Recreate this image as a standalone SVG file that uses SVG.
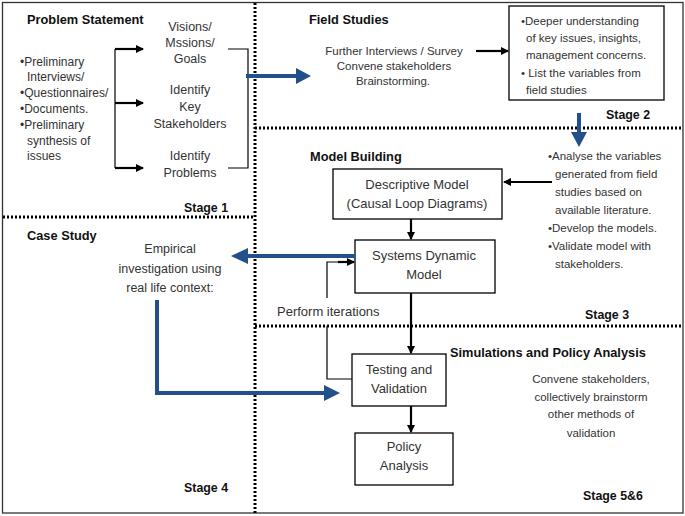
<svg xmlns="http://www.w3.org/2000/svg" width="685" height="516" viewBox="0 0 685 516">
<style>
.t{font-family:"Liberation Sans",Arial,sans-serif;font-size:11.5px;fill:#333}
.t12{font-size:12px}
.t125{font-size:12.5px}
.t13{font-size:13px}
.b{font-family:"Liberation Sans",Arial,sans-serif;font-size:12.8px;font-weight:bold;fill:#111}
.s{font-size:12.4px}
.m{text-anchor:middle}
.dot{stroke:#000;stroke-width:3;stroke-dasharray:2 2;fill:none}
.box{fill:#fff;stroke:#000;stroke-width:1.3}
.ln{stroke:#000;stroke-width:1.2;fill:none}
.ar{stroke:#000;stroke-width:2.2;fill:none}
.bl{stroke:#22508a;stroke-width:4;fill:none}
</style>
<defs>
<marker id="ah" markerWidth="8" markerHeight="8" refX="7" refY="4" orient="auto" markerUnits="userSpaceOnUse">
<path d="M0,0 L8,4 L0,8 Z" fill="#000"/>
</marker>
</defs>
<rect x="2.5" y="2.5" width="680.5" height="510.5" fill="#fff" stroke="#333" stroke-width="1.3"/>
<g id="dividers">
<line class="dot" x1="255" y1="3" x2="255" y2="513"/>
<line class="dot" x1="3" y1="217" x2="255" y2="217"/>
<line class="dot" x1="255" y1="128" x2="682" y2="128"/>
<line class="dot" x1="255" y1="326" x2="682" y2="326"/>
</g>
<g id="stage1">
<text class="b" x="27" y="24">Problem Statement</text>
<text class="t t12" x="20" y="66">•Preliminary</text>
<text class="t t12" x="27" y="81">Interviews/</text>
<text class="t t12" x="20" y="97">•Questionnaires/</text>
<text class="t t12" x="20" y="113">•Documents.</text>
<text class="t t12" x="20" y="129">•Preliminary</text>
<text class="t t12" x="27" y="145">synthesis of</text>
<text class="t t12" x="27" y="160">issues</text>
<text class="b s" x="184" y="212">Stage 1</text>
</g>
<g id="goals"><text class="t t125 m" x="190" y="31">Visions/</text><text class="t t125 m" x="190" y="47">Mssions/</text><text class="t t125 m" x="190" y="63">Goals</text></g>
<g id="stakeholders"><text class="t t125 m" x="190" y="94">Identify</text><text class="t t125 m" x="190" y="111">Key</text><text class="t t125 m" x="190" y="128">Stakeholders</text></g>
<g id="problems"><text class="t t125 m" x="190" y="160">Identify</text><text class="t t125 m" x="190" y="177">Problems</text></g>
<g id="stage2">
<text class="b" x="309" y="24">Field Studies</text>
<text class="t m" x="394" y="55">Further Interviews / Survey</text>
<text class="t m" x="394" y="70">Convene stakeholders</text>
<text class="t m" x="393" y="85">Brainstorming.</text>
<text class="b s" x="606" y="119">Stage 2</text>
</g>
<g id="understanding">
<rect class="box" x="509" y="6" width="155" height="94"/>
<text class="t" x="521" y="25">•Deeper understanding</text>
<text class="t" x="526" y="42">of key issues, insights,</text>
<text class="t" x="526" y="59">management concerns.</text>
<text class="t" x="521" y="77">• List the variables from</text>
<text class="t" x="526" y="94">field studies</text>
</g>
<g id="stage3">
<text class="b" x="310" y="161">Model Building</text>
<text class="t" x="548" y="160">•Analyse the variables</text>
<text class="t" x="555" y="178">generated from field</text>
<text class="t" x="555" y="196">studies based on</text>
<text class="t" x="555" y="214">available literature.</text>
<text class="t" x="548" y="232">•Develop the models.</text>
<text class="t" x="548" y="250">•Validate model with</text>
<text class="t" x="555" y="268">stakeholders.</text>
<text class="t t13" x="277" y="316">Perform iterations</text>
<text class="b s" x="585" y="319">Stage 3</text>
</g>
<g id="descriptive"><rect class="box" x="333" y="169" width="169" height="50"/><text class="t t13" x="417" y="189" text-anchor="middle">Descriptive Model</text><text class="t t13" x="417" y="208" text-anchor="middle">(Causal Loop Diagrams)</text></g>
<g id="sd"><rect class="box" x="355" y="240" width="140" height="53"/><text class="t t13" x="424" y="260" text-anchor="middle">Systems Dynamic</text><text class="t t13" x="424" y="279" text-anchor="middle">Model</text></g>
<g id="stage56">
<text class="b" x="450" y="357">Simulations and Policy Analysis</text>
<text class="t m" x="591" y="383">Convene stakeholders,</text>
<text class="t m" x="591" y="401">collectively brainstorm</text>
<text class="t m" x="591" y="418">other methods of</text>
<text class="t m" x="591" y="437">validation</text>
<text class="b s" x="583" y="500">Stage 5&amp;6</text>
</g>
<g id="testing"><rect class="box" x="352" y="354" width="94" height="52"/><text class="t t13" x="399" y="374" text-anchor="middle">Testing and</text><text class="t t13" x="399" y="393" text-anchor="middle">Validation</text></g>
<g id="policy"><rect class="box" x="355" y="433" width="98" height="52"/><text class="t t13" x="404" y="451" text-anchor="middle">Policy</text><text class="t t13" x="404" y="470" text-anchor="middle">Analysis</text></g>
<g id="stage4">
<text class="b" x="27" y="240">Case Study</text>
<text class="t t125 m" x="170" y="253">Empirical</text>
<text class="t t125 m" x="170" y="273">investigation using</text>
<text class="t t125 m" x="170" y="292">real life context:</text>
<text class="b s" x="184" y="492">Stage 4</text>
</g>
<g id="connectors">
<polyline class="ln" points="228,49 248,49 248,168 228,168"/>
<line class="ln" x1="115" y1="49" x2="115" y2="168"/>
<line class="ar" x1="115" y1="49" x2="143" y2="49" marker-end="url(#ah)"/>
<line class="ar" x1="115" y1="103" x2="143" y2="103" marker-end="url(#ah)"/>
<line class="ar" x1="115" y1="168" x2="143" y2="168" marker-end="url(#ah)"/>
<line class="ar" x1="476" y1="51" x2="508" y2="51" marker-end="url(#ah)"/>
<line class="ar" x1="552" y1="182" x2="504" y2="182" marker-end="url(#ah)"/>
<line class="ar" x1="411" y1="219" x2="411" y2="239" marker-end="url(#ah)"/>
<line class="ar" x1="411" y1="293" x2="411" y2="353" marker-end="url(#ah)"/>
<line class="ar" x1="411" y1="406" x2="411" y2="432" marker-end="url(#ah)"/>
<polyline class="ln" points="327,298 327,262 340,262"/>
<line class="ar" x1="338" y1="262" x2="354" y2="262" marker-end="url(#ah)"/>
<polyline class="ln" points="327,326 327,379 352,379"/>
<line class="bl" x1="246" y1="76" x2="298" y2="76"/>
<path d="M296,68 L311,76 L296,84 Z" fill="#22508a"/>
<line class="bl" x1="579" y1="113" x2="579" y2="134"/>
<path d="M571,132 L579,147 L587,132 Z" fill="#22508a"/>
<line class="bl" x1="355" y1="256" x2="245" y2="256"/>
<path d="M248,248 L231,256 L248,264 Z" fill="#22508a"/>
<polyline class="bl" points="157,300 157,393 326,393"/>
<path d="M324,385 L340,393 L324,401 Z" fill="#22508a"/>
</g>
</svg>
